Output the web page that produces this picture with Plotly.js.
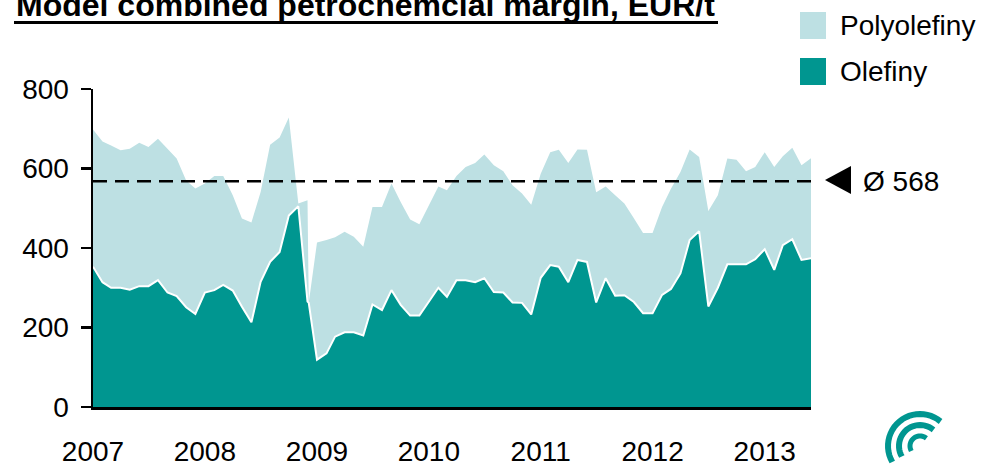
<!DOCTYPE html>
<html><head><meta charset="utf-8">
<script src="https://cdn.plot.ly/plotly-3.0.1.min.js"></script>
<style>html,body{margin:0;padding:0;background:#fff;}#chart{width:1001px;height:466px;}</style>
</head><body><div id="chart"></div>
<script>
// ---- data ----
const dates = [
 '2007-01','2007-02','2007-03','2007-04','2007-05','2007-06','2007-07','2007-08','2007-09','2007-10','2007-11','2007-12',
 '2008-01','2008-02','2008-03','2008-04','2008-05','2008-06','2008-07','2008-08','2008-09','2008-10','2008-11','2008-12','2008-12-05',
 '2009-01','2009-02','2009-03','2009-04','2009-05','2009-06','2009-07','2009-08','2009-09','2009-10','2009-11','2009-12',
 '2010-01','2010-02','2010-03','2010-04','2010-05','2010-06','2010-07','2010-08','2010-09','2010-10','2010-11','2010-12',
 '2011-01','2011-02','2011-03','2011-04','2011-05','2011-06','2011-07','2011-08','2011-09','2011-10','2011-11','2011-12',
 '2012-01','2012-02','2012-03','2012-04','2012-05','2012-06','2012-07','2012-08','2012-09','2012-10','2012-11','2012-12',
 '2013-01','2013-02','2013-03','2013-04','2013-05','2013-06'
];
const olefiny = [
 353,314,300,300,295,304,304,319,288,279,251,234,
 288,294,307,293,252,213,315,365,390,482,505,265,262,
 119,135,177,188,188,180,258,244,294,257,230,230,
 265,300,277,319,319,314,324,289,288,263,262,233,
 325,357,353,314,370,365,263,324,280,281,264,236,
 236,282,297,336,420,442,253,300,359,359,359,372,
 397,345,407,422,370,374
];
const polyolefiny = [
 345,354,358,346,355,361,350,356,362,346,319,316,
 274,287,274,240,222,251,226,295,288,246,7,255,0,
 295,285,250,253,240,223,245,259,268,259,242,230,
 243,255,268,262,285,300,311,319,305,295,275,276,
 262,284,294,300,278,282,277,231,253,231,211,202,
 202,221,252,255,228,187,240,233,266,263,234,232,
 244,259,224,230,238,252
];
const yearLabels = ['2007','2008','2009','2010','2011','2012','2013'];
const yTicks = [0,200,400,600,800];
const average = 568;
const titleText = 'Model combined petrochemcial margin, EUR/t';
const seriesNames = ['Olefiny','Polyolefiny'];

// ---- style ----
const DARK = '#009690', LIGHT = '#bde0e3', FONT = 'Liberation Sans, Arial, sans-serif';
const L = 93, R = 811, T = 89, B = 407, W = R - L, H = B - T;
const px = x => (x - L) / W, py = y => (B - y) / H;

const traces = [
  {x: dates, y: olefiny, name: seriesNames[0], type: 'scatter', mode: 'lines',
   stackgroup: 'one', fillcolor: DARK, line: {color: '#ffffff', width: 2}, showlegend: false, hoverinfo: 'skip'},
  {x: dates, y: polyolefiny, name: seriesNames[1], type: 'scatter', mode: 'lines',
   stackgroup: 'one', fillcolor: LIGHT, line: {color: LIGHT, width: 0}, showlegend: false, hoverinfo: 'skip'}
];

function arc(cx, cy, r, a0, a1) {
  let s = '';
  for (let i = 0; i <= 24; i++) {
    const a = (a0 + (a1 - a0) * i / 24) * Math.PI / 180;
    const X = px(cx + r * Math.cos(a)), Y = py(cy + r * Math.sin(a));
    s += (i ? ' L ' : 'M ') + X + ' ' + Y;
  }
  return s;
}

const shapes = [
  {type: 'line', xref: 'paper', yref: 'y', x0: 0, x1: 1, y0: average, y1: average,
   line: {color: '#000', width: 2.5, dash: '14px,8px'}, layer: 'above'},
  // triangle marker for average
  {type: 'path', xref: 'paper', yref: 'paper',
   path: `M ${px(825)} ${py(180)} L ${px(851)} ${py(166)} L ${px(851)} ${py(194)} Z`,
   fillcolor: '#000', line: {width: 0}},
  // legend swatches
  {type: 'rect', xref: 'paper', yref: 'paper', x0: px(800), x1: px(826), y0: py(39), y1: py(12),
   fillcolor: LIGHT, line: {width: 0}},
  {type: 'rect', xref: 'paper', yref: 'paper', x0: px(800), x1: px(826), y0: py(85), y1: py(58),
   fillcolor: DARK, line: {width: 0}},
  // title underline
  {type: 'line', xref: 'paper', yref: 'paper', x0: px(14), x1: px(718), y0: py(22.5), y1: py(22.5),
   line: {color: '#000', width: 3}},
  // logo arcs
  {type: 'path', xref: 'paper', yref: 'paper', path: arc(920, 446, 32, 150, 310), line: {color: DARK, width: 6}},
  {type: 'path', xref: 'paper', yref: 'paper', path: arc(920, 446, 21, 150, 310), line: {color: DARK, width: 6}},
  {type: 'path', xref: 'paper', yref: 'paper', path: arc(920, 446, 10, 150, 310), line: {color: DARK, width: 5}}
];

const annotations = [
  {text: '<b>' + titleText + '</b>', xref: 'paper', yref: 'paper', x: px(14), y: py(5),
   xanchor: 'left', yanchor: 'middle', showarrow: false, font: {family: FONT, size: 32, color: '#000'}},
  {text: seriesNames[1], xref: 'paper', yref: 'paper', x: px(838), y: py(26),
   xanchor: 'left', yanchor: 'middle', showarrow: false, font: {family: FONT, size: 28, color: '#000'}},
  {text: seriesNames[0], xref: 'paper', yref: 'paper', x: px(838), y: py(71),
   xanchor: 'left', yanchor: 'middle', showarrow: false, font: {family: FONT, size: 28, color: '#000'}},
  {text: '\u00d8 ' + average, xref: 'paper', yref: 'y', x: px(861), y: average,
   xanchor: 'left', yanchor: 'middle', showarrow: false, font: {family: FONT, size: 28, color: '#000'}}
];

const layout = {
  width: 1001, height: 466,
  margin: {l: L, r: 1001 - R, t: T, b: 466 - B, pad: 0},
  paper_bgcolor: '#fff', plot_bgcolor: '#fff',
  showlegend: false,
  font: {family: FONT, size: 28, color: '#000'},
  xaxis: {type: 'date', range: ['2007-01-01', '2013-06-01'],
          tickvals: yearLabels.map(y => y + '-01-01'), ticktext: yearLabels,
          ticks: '', showline: true, linecolor: '#000', linewidth: 2.5,
          showgrid: false, zeroline: false, ticklabelstandoff: 18,
          tickfont: {family: FONT, size: 28, color: '#000'}},
  yaxis: {range: [0, 800], tickvals: yTicks, ticks: 'outside', ticklen: 10, tickwidth: 2.5,
          tickcolor: '#000', showline: true, linecolor: '#000', linewidth: 2.5,
          showgrid: false, zeroline: false, ticklabelstandoff: 6,
          tickfont: {family: FONT, size: 28, color: '#000'}},
  shapes: shapes,
  annotations: annotations
};

Plotly.newPlot('chart', traces, layout, {displayModeBar: false, staticPlot: true});
</script>
</body></html>
